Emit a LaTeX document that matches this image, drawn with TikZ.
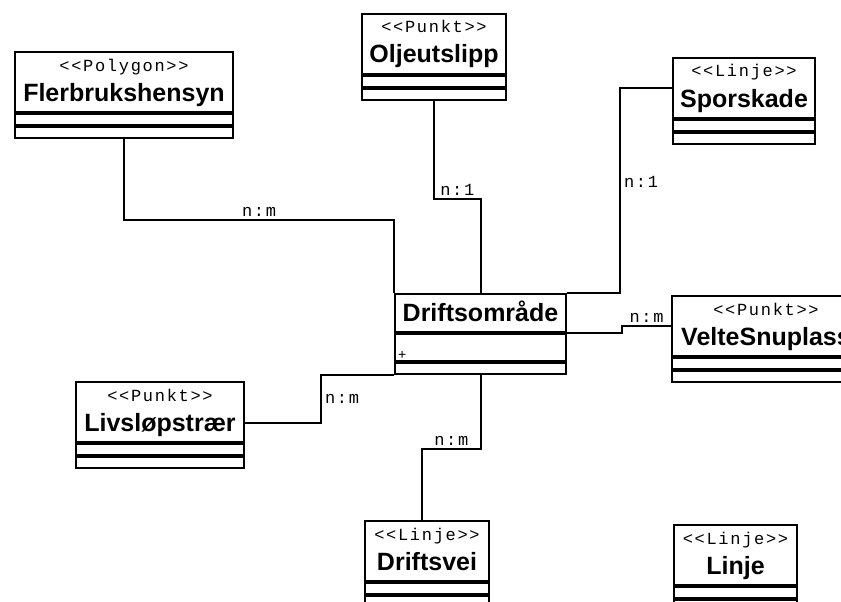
\documentclass[tikz,border=0pt]{standalone}
\usepackage{fontspec}
\setmainfont{Liberation Sans}
\newfontfamily\monofont[LetterSpace=10]{Liberation Mono}

\begin{document}
\begin{tikzpicture}[x=1pt,y=-1pt,line join=miter,
    hode/.style={draw,line width=2pt,inner sep=0pt,minimum height=60pt},
    rom/.style={draw,line width=2pt,inner sep=0pt,minimum height=11pt},
    stereo/.style={anchor=base,inner sep=0pt,font=\fontsize{17}{17}\monofont},
    navn/.style={anchor=base,inner sep=0pt,font=\fontsize{25}{25}\selectfont\bfseries},
    mult/.style={inner sep=3pt,font=\fontsize{17}{17}\monofont},
    forb/.style={line width=2pt}]
    \useasboundingbox (0,0) rectangle (841,602);
    \clip (0,0) rectangle (841,602);
    % klasser med stereotype
    \foreach \nm/\x/\y/\w/\st/\tit in {flerbruk/14/51/218/Polygon/Flerbrukshensyn,
        olje/361/13/144/Punkt/Oljeutslipp, spor/672/57/142/Linje/Sporskade,
        velte/671/295/188/Punkt/VelteSnuplass, livs/75/381/168/Punkt/Livsløpstrær,
        vei/364/520/124/Linje/Driftsvei, linje/673/524/123/Linje/Linje}
    {
        \node[hode,minimum width=\w pt,anchor=north west] (\nm) at (\x,\y) {};
        \node[rom,minimum width=\w pt,anchor=north] (\nm-a) at (\nm.south) {};
        \node[rom,minimum width=\w pt,anchor=north] (\nm-o) at (\nm-a.south) {};
        \node[stereo] at ([yshift=-20pt]\nm.north) {<<\st>>};
        \node[navn] at ([yshift=-50pt]\nm.north) {\tit};
    }
    % hovedklassen
    \node[hode,minimum width=171pt,minimum height=38pt,anchor=north west] (drift) at (394,293) {};
    \node[rom,minimum width=171pt,minimum height=27pt,anchor=north] (drift-a) at (drift.south) {};
    \node[rom,minimum width=171pt,anchor=north] (drift-o) at (drift-a.south) {};
    \node[navn] at ([yshift=-28pt]drift.north) {Driftsområde};
    \node[anchor=west,inner sep=0pt,font=\fontsize{14}{14}\selectfont] (pluss) at ([xshift=4pt,yshift=7pt]drift-a.south west) {+};
    % forbindelser
    \draw[forb] (flerbruk-o.south) -- ++(0,81) -| node[pos=0.25,above,mult] {n:m} (drift.north west);
    \draw[forb] (olje-o.south) -- ++(0,98) -| node[pos=0.25,above,mult] {n:1} (drift.north);
    \draw[forb] (spor.west) -| node[pos=0.73,right,mult] {n:1} ([xshift=53pt]drift.north east) -- (drift.north east);
    \draw[forb] (drift.south east) -- ++(55,0) |- node[pos=0.75,above,mult] {n:m} (velte.west);
    \draw[forb] ([yshift=-11pt]livs.east) -- ++(76,0) |- node[pos=0.25,right,mult] {n:m} (drift-o.south west);
    \draw[forb] (drift-o.south) -- ++(0,74) -| node[pos=0.25,above,mult] {n:m} ([xshift=-5pt]vei.north);
\end{tikzpicture}
\end{document}
